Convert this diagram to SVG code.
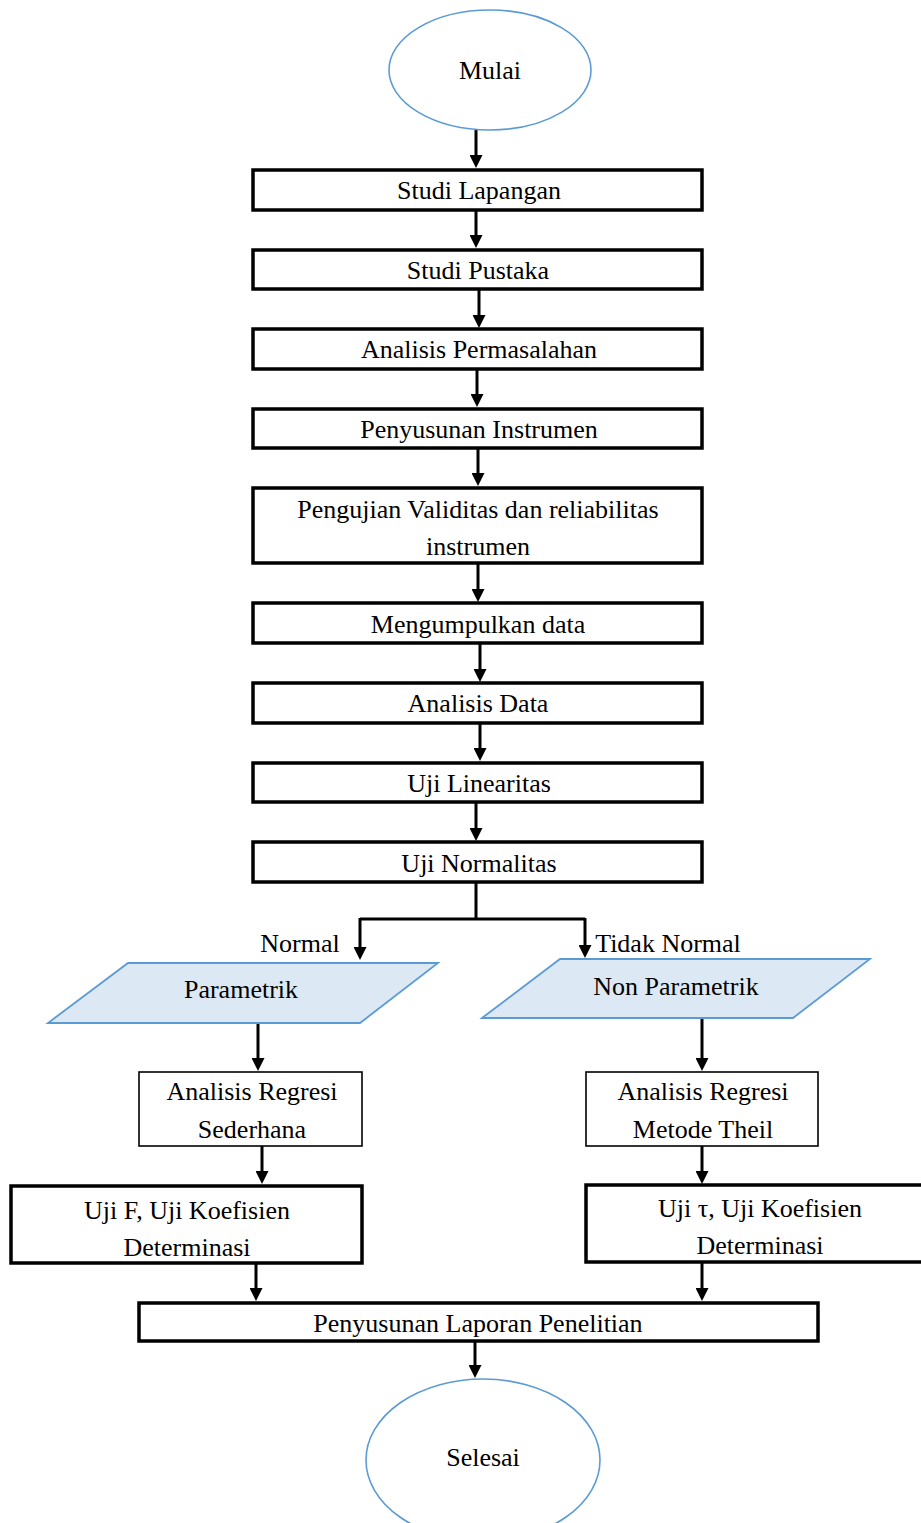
<svg xmlns="http://www.w3.org/2000/svg" width="921" height="1523" viewBox="0 0 921 1523">
<style>
text{font-family:"Liberation Serif","Times New Roman",serif;font-size:26px;fill:#000;text-anchor:middle}
.box{fill:#fff;stroke:#000;stroke-width:3.5}
.thin{fill:#fff;stroke:#000;stroke-width:1.6}
.term{fill:#fff;stroke:#5b9bd5;stroke-width:1.6}
.io{fill:#dde8f5;stroke:#5b9bd5;stroke-width:1.8}
.c{fill:none;stroke:#000;stroke-width:3}
.a{marker-end:url(#ah)}
</style>
<defs>
<marker id="ah" markerUnits="userSpaceOnUse" markerWidth="13" markerHeight="13" refX="4" refY="6.5" orient="auto"><path d="M0,0 L13,6.5 L0,13 z" fill="#000"/></marker>
</defs>
<rect width="921" height="1523" fill="#fff"/>
<g id="connectors">
<path class="c a" d="M476,130 V159"/>
<path class="c a" d="M476,210 V239"/>
<path class="c a" d="M479,289 V319"/>
<path class="c a" d="M477,369 V398"/>
<path class="c a" d="M478,448 V477"/>
<path class="c a" d="M478,563 V593"/>
<path class="c a" d="M480,643 V673"/>
<path class="c a" d="M480,723 V752"/>
<path class="c a" d="M476,802 V832"/>
<path class="c" d="M476,882 V919 M360,919 H585"/>
<path class="c a" d="M360,918 V951"/>
<path class="c a" d="M585,918 V949"/>
<path class="c a" d="M258,1023 V1062"/>
<path class="c a" d="M702,1018 V1062"/>
<path class="c a" d="M262,1146 V1175"/>
<path class="c a" d="M702,1146 V1175"/>
<path class="c a" d="M256,1263 V1292"/>
<path class="c a" d="M702,1262 V1292"/>
<path class="c a" d="M475,1341 V1369"/>
</g>
<g id="mulai"><ellipse class="term" cx="490" cy="70" rx="101" ry="60"/><text x="490" y="79">Mulai</text></g>
<g id="studi-lapangan"><rect class="box" x="253" y="170" width="449" height="40"/><text x="479" y="199">Studi Lapangan</text></g>
<g id="studi-pustaka"><rect class="box" x="253" y="250" width="449" height="39"/><text x="478" y="279">Studi Pustaka</text></g>
<g id="analisis-permasalahan"><rect class="box" x="253" y="329" width="449" height="40"/><text x="479" y="358">Analisis Permasalahan</text></g>
<g id="penyusunan-instrumen"><rect class="box" x="253" y="409" width="449" height="39"/><text x="479" y="438">Penyusunan Instrumen</text></g>
<g id="pengujian"><rect class="box" x="253" y="488" width="449" height="75"/><text x="478" y="518">Pengujian Validitas dan reliabilitas</text><text x="478" y="555">instrumen</text></g>
<g id="mengumpulkan"><rect class="box" x="253" y="603" width="449" height="40"/><text x="478" y="633">Mengumpulkan data</text></g>
<g id="analisis-data"><rect class="box" x="253" y="683" width="449" height="40"/><text x="478" y="712">Analisis Data</text></g>
<g id="uji-linearitas"><rect class="box" x="253" y="763" width="449" height="39"/><text x="479" y="792">Uji Linearitas</text></g>
<g id="uji-normalitas"><rect class="box" x="253" y="842" width="449" height="40"/><text x="479" y="872">Uji Normalitas</text></g>
<g id="label-normal"><text x="300" y="952">Normal</text></g>
<g id="label-tidak-normal"><text x="668" y="952">Tidak Normal</text></g>
<g id="parametrik"><polygon class="io" points="128,963 438,963 360,1023 48,1023"/><text x="241" y="998">Parametrik</text></g>
<g id="non-parametrik"><polygon class="io" points="560,959 870,959 793,1018 482,1018"/><text x="676" y="995">Non Parametrik</text></g>
<g id="regresi-sederhana"><rect class="thin" x="139" y="1072" width="223" height="74"/><text x="252" y="1100">Analisis Regresi</text><text x="252" y="1138">Sederhana</text></g>
<g id="regresi-theil"><rect class="thin" x="586" y="1072" width="232" height="74"/><text x="703" y="1100">Analisis Regresi</text><text x="703" y="1138">Metode Theil</text></g>
<g id="uji-f"><rect class="box" x="11" y="1186" width="351" height="77"/><text x="187" y="1219">Uji F, Uji Koefisien</text><text x="187" y="1256">Determinasi</text></g>
<g id="uji-tau"><rect class="box" x="586" y="1185" width="340" height="77"/><text x="760" y="1217">Uji τ, Uji Koefisien</text><text x="760" y="1254">Determinasi</text></g>
<g id="laporan"><rect class="box" x="139" y="1303" width="679" height="38"/><text x="478" y="1332">Penyusunan Laporan Penelitian</text></g>
<g id="selesai"><ellipse class="term" cx="483" cy="1460" rx="117" ry="81"/><text x="483" y="1466">Selesai</text></g>
</svg>
